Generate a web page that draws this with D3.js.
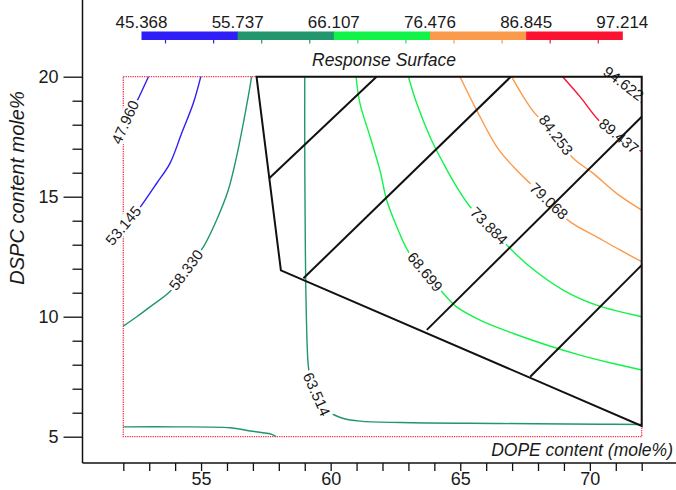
<!DOCTYPE html>
<html>
<head>
<meta charset="utf-8">
<script src="https://cdn.jsdelivr.net/npm/d3@7"></script>
<style>
  body { margin: 0; background: #fff; }
  svg text { font-family: "Liberation Sans", Arial, sans-serif; fill: #1a1a1a; }
</style>
</head>
<body>
<div id="chart"></div>
<script>
// Legend bands
const legendBreaks = [45.368, 55.737, 66.107, 76.476, 86.845, 97.214];
const legendColors = ['#2f1ef6', '#22966c', '#12f34a', '#fc9a4b', '#fa1230'];
const contourLevels = [47.960, 53.145, 58.330, 63.514, 68.699, 73.884, 79.068, 84.253, 89.437, 94.622];

// Axis ticks
const xMajor = [55, 60, 65, 70];
const yMajor = [5, 10, 15, 20];
const xDomain = [52, 72];
const yDomain = [5, 20];

// Contour lines (DOPE %, DSPC %)
const c47960 = [[52.97, 20], [52.68, 19.32], [52.52, 18.96], [52.25, 18.4], [52, 17.8]];
const c53145 = [[54.99, 20], [54.70, 18.89], [54.25, 17.64], [53.80, 16.39], [53.29, 15.56], [52.71, 14.65], [52.35, 14.15], [52, 13.7]];
const c58330 = [[56.95, 20], [56.82, 19.17], [56.63, 18.06], [56.37, 16.67], [56.05, 15.28], [55.60, 14.03], [55.09, 12.91], [54.45, 11.99], [53.81, 11.06], [53.03, 10.41], [52.52, 10.0], [52, 9.61]];
const c58330b = [[52, 5.41], [54.06, 5.41], [56.12, 5.37], [56.89, 5.24], [57.73, 5.1], [57.9, 5.0]];
const c63514 = [[59.0, 20], [59.0, 17], [59.01, 14.86], [59.05, 10.69], [59.13, 8.05], [59.2, 7.55], [59.5, 6.9], [59.75, 6.3], [60.04, 5.97], [60.49, 5.76], [61.13, 5.65], [62.68, 5.59], [66.54, 5.55], [70.4, 5.52], [72, 5.51]];
const c68699 = [[60.98, 20], [61.13, 18.89], [61.52, 17.5], [61.9, 16.11], [62.16, 14.86], [62.55, 13.75], [63.0, 12.71], [63.64, 11.87], [64.35, 10.97], [64.86, 10.41], [65.76, 9.86], [67.05, 9.30], [68.33, 8.82], [69.62, 8.40], [70.9, 8.05], [72, 7.78]];
const c73884 = [[63.0, 20], [63.32, 18.89], [63.83, 17.5], [64.35, 16.39], [64.86, 15.41], [65.38, 14.58], [66.11, 13.78], [66.92, 12.85], [67.69, 12.08], [68.97, 11.11], [70.26, 10.48], [72, 10.0]];
const c79068 = [[64.99, 20], [65.63, 18.61], [66.41, 17.08], [67.05, 16.25], [67.69, 15.56], [68.42, 14.82], [69.23, 13.96], [70.26, 13.33], [71.16, 12.78], [72, 12.29]];
const c84253 = [[66.98, 20], [67.43, 19.17], [67.88, 18.47], [68.69, 17.57], [69.36, 16.6], [70.13, 15.97], [71.03, 15.14], [72, 14.44]];
const c89437 = [[68.95, 20], [69.62, 19.17], [70.33, 18.2], [71.12, 17.5], [72, 16.88]];
const c94622 = [[70.75, 20], [71.3, 19.55], [72, 18.9]];

const contours = [
  { level: 47.960, pts: c47960, label: [52.07, 18.11] },
  { level: 53.145, pts: c53145, label: [52.0, 13.8] },
  { level: 58.330, pts: c58330, label: [54.42, 11.95] },
  { level: 58.330, pts: c58330b, label: null },
  { level: 63.514, pts: c63514, label: [59.46, 6.77] },
  { level: 68.699, pts: c68699, label: [63.64, 11.87] },
  { level: 73.884, pts: c73884, label: [66.11, 13.78] },
  { level: 79.068, pts: c79068, label: [68.42, 14.82] },
  { level: 84.253, pts: c84253, label: [68.69, 17.57] },
  { level: 89.437, pts: c89437, label: [71.12, 17.53] },
  { level: 94.622, pts: c94622, label: [71.3, 19.72] }
];

// Design space outline and the parallel lines inside it
const region = [[57.14, 20], [58.08, 11.93], [72, 5.45], [72, 20]];
const gridSegments = [
  [[57.63, 15.77], [61.77, 20]],
  [[58.95, 11.6], [66.95, 20]],
  [[63.71, 9.45], [72, 18.33]],
  [[67.70, 7.50], [72, 12.15]]
];

const width = 676, height = 490;
const svg = d3.select('#chart').append('svg')
  .attr('width', width)
  .attr('height', height);

const x = d3.scaleLinear().domain(xDomain).range([123.3, 641.7]);
const y = d3.scaleLinear().domain(yDomain).range([436.7, 76.7]);
const color = d3.scaleThreshold().domain(legendBreaks.slice(1, -1)).range(legendColors);
const line = d3.line().x(d => x(d[0])).y(d => y(d[1])).curve(d3.curveCatmullRom);

// Legend bar
const lx = d3.scaleLinear().domain([legendBreaks[0], legendBreaks[5]]).range([141.5, 622.3]);
const legend = svg.append('g');
legend.selectAll('rect')
  .data(legendColors)
  .enter().append('rect')
  .attr('x', (d, i) => lx(legendBreaks[i]))
  .attr('width', (d, i) => lx(legendBreaks[i + 1]) - lx(legendBreaks[i]) + 0.5)
  .attr('y', 31.5)
  .attr('height', 8.5)
  .attr('fill', d => d);
legend.selectAll('line')
  .data(contourLevels)
  .enter().append('line')
  .attr('x1', d => lx(d)).attr('x2', d => lx(d))
  .attr('y1', 40).attr('y2', 43.5)
  .attr('stroke', d => color(d))
  .attr('stroke-width', 1.2);
legend.selectAll('text.lab')
  .data(legendBreaks)
  .enter().append('text')
  .attr('class', 'lab')
  .attr('x', d => lx(d))
  .attr('y', 28)
  .attr('text-anchor', 'middle')
  .style('font-size', '17px')
  .text(d => d.toFixed(3));
legend.append('text')
  .attr('x', 384)
  .attr('y', 66)
  .attr('text-anchor', 'middle')
  .style('font-size', '17.5px')
  .style('font-style', 'italic')
  .text('Response Surface');

// Dotted design border
svg.append('rect')
  .attr('x', x(xDomain[0])).attr('y', y(yDomain[1]))
  .attr('width', x(xDomain[1]) - x(xDomain[0]))
  .attr('height', y(yDomain[0]) - y(yDomain[1]))
  .attr('fill', 'none')
  .attr('stroke', '#f0384f')
  .attr('stroke-width', 1.3)
  .attr('stroke-dasharray', '1.3,1');

// Contours
svg.append('g')
  .selectAll('path')
  .data(contours)
  .enter().append('path')
  .attr('d', d => line(d.pts))
  .attr('fill', 'none')
  .attr('stroke', d => color(d.level))
  .attr('stroke-width', 1.4);

// Contour labels, with a white patch that breaks the line
const labelLayer = svg.append('g');
contours.filter(c => c.label).forEach(c => {
  const px = x(c.label[0]), py = y(c.label[1]);
  let best = 0, bd = Infinity;
  for (let i = 0; i < c.pts.length - 1; i++) {
    const mx = (x(c.pts[i][0]) + x(c.pts[i + 1][0])) / 2;
    const my = (y(c.pts[i][1]) + y(c.pts[i + 1][1])) / 2;
    const dist = Math.hypot(mx - px, my - py);
    if (dist < bd) { bd = dist; best = i; }
  }
  const a = c.pts[best], b = c.pts[best + 1];
  let ang = Math.atan2(y(b[1]) - y(a[1]), x(b[0]) - x(a[0])) * 180 / Math.PI;
  if (ang > 90) ang -= 180;
  if (ang < -90) ang += 180;
  const g = labelLayer.append('g')
    .attr('transform', `translate(${px},${py}) rotate(${ang})`);
  const t = g.append('text')
    .attr('text-anchor', 'middle')
    .attr('dy', '0.35em')
    .style('font-size', '15px')
    .text(c.level.toFixed(3));
  const bb = t.node().getBBox();
  g.insert('rect', 'text')
    .attr('x', bb.x - 2).attr('y', bb.y + 1)
    .attr('width', bb.width + 4).attr('height', bb.height - 2)
    .attr('fill', '#fff');
});

// Design space outline
svg.append('path')
  .attr('d', d3.line().x(d => x(d[0])).y(d => y(d[1]))(region) + 'Z')
  .attr('fill', 'none')
  .attr('stroke', '#111')
  .attr('stroke-width', 2);
svg.append('g')
  .selectAll('line')
  .data(gridSegments)
  .enter().append('line')
  .attr('x1', d => x(d[0][0])).attr('y1', d => y(d[0][1]))
  .attr('x2', d => x(d[1][0])).attr('y2', d => y(d[1][1]))
  .attr('stroke', '#111')
  .attr('stroke-width', 2);

// Axes
const axisX = 82.5, axisY = 463;
svg.append('line')
  .attr('x1', axisX).attr('x2', axisX).attr('y1', 0).attr('y2', axisY)
  .attr('stroke', '#111').attr('stroke-width', 1.5);
svg.append('line')
  .attr('x1', axisX).attr('x2', width).attr('y1', axisY).attr('y2', axisY)
  .attr('stroke', '#111').attr('stroke-width', 1.5);

const yAxis = svg.append('g')
  .attr('transform', `translate(${axisX},0)`)
  .call(d3.axisLeft(y).tickValues(d3.range(5, 21)).tickSize(10)
    .tickFormat(d => yMajor.includes(d) ? d : ''));
yAxis.select('.domain').remove();
yAxis.selectAll('.tick line').attr('stroke', '#111').attr('stroke-width', 1.3)
  .attr('x2', d => yMajor.includes(d) ? -19 : -10);
yAxis.selectAll('.tick text').attr('x', -24).style('font-size', '18px')
  .style('font-family', '"Liberation Sans", Arial, sans-serif').attr('fill', '#1a1a1a');

const xAxis = svg.append('g')
  .attr('transform', `translate(0,${axisY})`)
  .call(d3.axisBottom(x).tickValues(d3.range(52, 73)).tickSize(8)
    .tickFormat(d => xMajor.includes(d) ? d : ''));
xAxis.select('.domain').remove();
xAxis.selectAll('.tick line').attr('stroke', '#111').attr('stroke-width', 1.3);
xAxis.selectAll('.tick text').attr('y', 9).style('font-size', '18px')
  .style('font-family', '"Liberation Sans", Arial, sans-serif').attr('fill', '#1a1a1a');

// Axis titles
svg.append('text')
  .attr('transform', 'translate(24,188) rotate(-90)')
  .attr('text-anchor', 'middle')
  .style('font-size', '20px')
  .style('font-style', 'italic')
  .text('DSPC content mole%');
svg.append('text')
  .attr('x', 673)
  .attr('y', 456)
  .attr('text-anchor', 'end')
  .style('font-size', '17.5px')
  .style('font-style', 'italic')
  .text('DOPE content (mole%)');
</script>
</body>
</html>
